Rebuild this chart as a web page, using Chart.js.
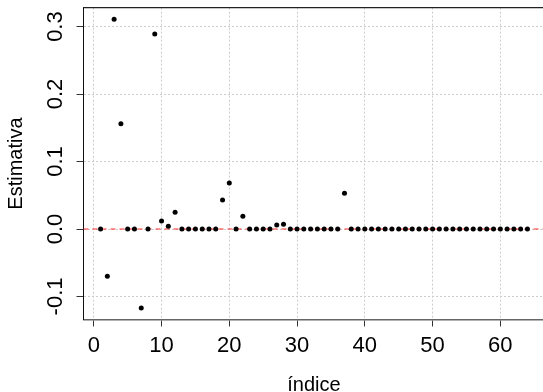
<!DOCTYPE html>
<html>
<head>
<meta charset="utf-8">
<script src="https://cdn.jsdelivr.net/npm/chart.js@4.4.1/dist/chart.umd.min.js"></script>
<style>
    html, body { margin: 0; padding: 0; background: #fff; overflow: hidden; }
    #wrap { position: relative; width: 547px; height: 400px; }
</style>
</head>
<body>
<div id="wrap"><canvas id="grafico"></canvas></div>
<script>
// Dados
const indices = [
    1, 2, 3, 4, 5, 6, 7, 8, 9, 10, 11, 12, 13, 14, 15, 16,
    17, 18, 19, 20, 21, 22, 23, 24, 25, 26, 27, 28, 29, 30, 31, 32,
    33, 34, 35, 36, 37, 38, 39, 40, 41, 42, 43, 44, 45, 46, 47, 48,
    49, 50, 51, 52, 53, 54, 55, 56, 57, 58, 59, 60, 61, 62, 63, 64
];
const estimativas = [
    0, -0.070, 0.311, 0.156, 0, 0, -0.117, 0, 0.289, 0.012, 0.004, 0.025, 0, 0, 0, 0,
    0, 0, 0.043, 0.068, 0, 0.019, 0, 0, 0, 0, 0.006, 0.007, 0, 0, 0, 0,
    0, 0, 0, 0, 0.053, 0, 0, 0, 0, 0, 0, 0, 0, 0, 0, 0,
    0, 0, 0, 0, 0, 0, 0, 0, 0, 0, 0, 0, 0, 0, 0, 0
];
const xTicks = [0, 10, 20, 30, 40, 50, 60];
const yTicks = [-0.1, 0, 0.1, 0.2, 0.3];
const yTickLabels = ['-0.1', '0.0', '0.1', '0.2', '0.3'];
const linhaReferencia = 0;

const fonte = 'Liberation Sans, Arial, Helvetica, sans-serif';
Chart.defaults.font.family = fonte;
Chart.defaults.color = '#000';

// limites como no R (4% de folga)
function limites(vals) {
    const min = Math.min(...vals), max = Math.max(...vals);
    const pad = (max - min) * 0.04;
    return { min: min - pad, max: max + pad };
}
const limX = limites(indices);
const limY = limites(estimativas);

// desenha rótulos do eixo y rotacionados, linha tracejada e borda superior
const extras = {
    id: 'extras',
    beforeDatasetsDraw(chart) {
        const { ctx, chartArea, scales } = chart;
        const y0 = scales.y.getPixelForValue(linhaReferencia);
        ctx.save();
        ctx.strokeStyle = 'rgba(255, 40, 40, 0.65)';
        ctx.lineWidth = 1.6;
        ctx.setLineDash([5, 4]);
        ctx.beginPath();
        ctx.moveTo(chartArea.left, y0);
        ctx.lineTo(chartArea.right, y0);
        ctx.stroke();
        ctx.restore();
    },
    afterDraw(chart) {
        const { ctx, chartArea, scales } = chart;
        ctx.save();
        ctx.strokeStyle = '#222';
        ctx.lineWidth = 1.2;
        ctx.beginPath();
        ctx.moveTo(chartArea.left, chartArea.top);
        ctx.lineTo(chartArea.right, chartArea.top);
        ctx.stroke();

        ctx.fillStyle = '#000';
        ctx.font = '22px ' + fonte;
        ctx.textAlign = 'center';
        ctx.textBaseline = 'alphabetic';
        yTicks.forEach((v, i) => {
            const py = scales.y.getPixelForValue(v);
            ctx.save();
            ctx.translate(62, py);
            ctx.rotate(-Math.PI / 2);
            ctx.fillText(yTickLabels[i], 0, 0);
            ctx.restore();
        });
        ctx.restore();
    }
};

new Chart(document.getElementById('grafico'), {
    type: 'scatter',
    data: {
        datasets: [{
            label: 'Estimativa',
            data: indices.map((x, i) => ({ x: x, y: estimativas[i] })),
            backgroundColor: '#000',
            borderColor: '#000',
            pointRadius: 2.5,
            pointHoverRadius: 2.5,
            borderWidth: 0
        }]
    },
    options: {
        responsive: true,
        maintainAspectRatio: false,
        devicePixelRatio: 1,
        animation: false,
        layout: { padding: { top: 7.6, right: 0.4, left: 0, bottom: 0 } },
        plugins: {
            legend: { display: false },
            tooltip: { enabled: false }
        },
        scales: {
            x: {
                type: 'linear',
                min: limX.min,
                max: limX.max,
                afterBuildTicks: (scale) => { scale.ticks = xTicks.map(v => ({ value: v })); },
                afterFit: (scale) => { scale.height = 80.5; },
                ticks: {
                    autoSkip: false,
                    maxRotation: 0,
                    padding: 6,
                    font: { size: 22 },
                    color: '#000'
                },
                grid: {
                    color: '#cccccc',
                    lineWidth: 1,
                    tickLength: 7,
                    tickColor: '#333',
                    tickWidth: 1,
                    tickBorderDash: []
                },
                border: { display: true, color: '#666', width: 1.5, dash: [2, 2] },
                title: {
                    display: true,
                    text: 'índice',
                    font: { size: 20 },
                    color: '#000',
                    padding: { top: 0, bottom: 2.5 }
                }
            },
            y: {
                type: 'linear',
                min: limY.min,
                max: limY.max,
                afterBuildTicks: (scale) => { scale.ticks = yTicks.map(v => ({ value: v })); },
                afterFit: (scale) => { scale.width = 83.5; },
                ticks: { display: false },
                grid: {
                    color: '#cccccc',
                    lineWidth: 1,
                    tickLength: 7,
                    tickColor: '#333',
                    tickWidth: 1,
                    tickBorderDash: []
                },
                border: { display: true, color: '#111', width: 1, dash: [2, 2] },
                title: {
                    display: true,
                    text: 'Estimativa',
                    font: { size: 20 },
                    color: '#000',
                    padding: { top: 4, bottom: 0 }
                }
            }
        }
    },
    plugins: [extras]
});
</script>
</body>
</html>
